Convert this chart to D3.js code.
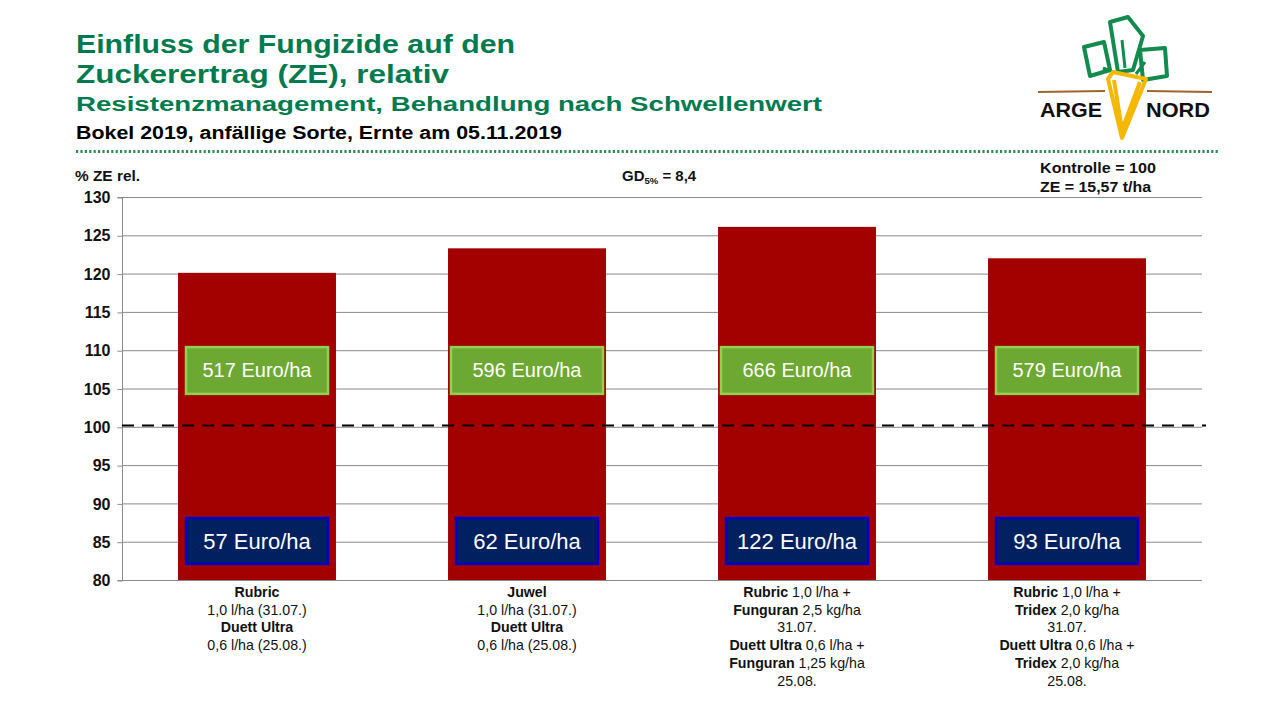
<!DOCTYPE html>
<html><head><meta charset="utf-8">
<script src="https://cdn.jsdelivr.net/npm/d3@7"></script>
<style>
html,body{margin:0;padding:0;background:#fff;}
svg{display:block;font-family:"Liberation Sans",Arial,sans-serif;}
</style></head>
<body>
<svg id="c" width="1280" height="720"></svg>
<script>
// ---- data ----
const categories = ["Rubric/Duett Ultra", "Juwel/Duett Ultra", "Rubric+Funguran/Duett Ultra+Funguran", "Rubric+Tridex/Duett Ultra+Tridex"];
const values = [120.1, 123.3, 126.1, 122.0];
const profitLabels = ["517 Euro/ha", "596 Euro/ha", "666 Euro/ha", "579 Euro/ha"];
const costLabels = ["57 Euro/ha", "62 Euro/ha", "122 Euro/ha", "93 Euro/ha"];
const yTicks = [80, 85, 90, 95, 100, 105, 110, 115, 120, 125, 130];
const controlValue = 100;
const categoryLines = [
  [[["Rubric",1]],[["1,0 l/ha (31.07.)",0]],[["Duett Ultra",1]],[["0,6  l/ha (25.08.)",0]]],
  [[["Juwel",1]],[["1,0 l/ha (31.07.)",0]],[["Duett Ultra",1]],[["0,6 l/ha (25.08.)",0]]],
  [[["Rubric",1],[" 1,0 l/ha +",0]],[["Funguran",1],[" 2,5 kg/ha",0]],[["31.07.",0]],[["Duett Ultra",1],[" 0,6 l/ha +",0]],[["Funguran",1],[" 1,25 kg/ha",0]],[["25.08.",0]]],
  [[["Rubric",1],[" 1,0 l/ha +",0]],[["Tridex",1],[" 2,0 kg/ha",0]],[["31.07.",0]],[["Duett Ultra",1],[" 0,6 l/ha +",0]],[["Tridex",1],[" 2,0 kg/ha",0]],[["25.08.",0]]]
];
const titleLines = ["Einfluss der Fungizide auf den", "Zuckerertrag (ZE), relativ", "Resistenzmanagement, Behandlung nach Schwellenwert", "Bokel 2019, anfällige Sorte, Ernte am 05.11.2019"];

// ---- layout ----
const svg = d3.select("#c");
const green = "#007A4E";
const plot = {left:122, right:1202, top:197, bottom:580};

// Title
const tSpec = [
  {y:53, size:25.5, w:439, col:green},
  {y:83, size:25.5, w:373, col:green},
  {y:111, size:20, w:746, col:green},
  {y:139, size:18, w:486, col:"#000"}
];
titleLines.forEach((t,i)=>{
  svg.append("text").attr("x",76).attr("y",tSpec[i].y)
    .attr("font-size",tSpec[i].size).attr("font-weight","bold").attr("fill",tSpec[i].col)
    .attr("textLength",tSpec[i].w).attr("lengthAdjust","spacingAndGlyphs").text(t);
});
// dotted separator
svg.append("line").attr("x1",76).attr("x2",1220).attr("y1",151.5).attr("y2",151.5)
  .attr("stroke","#2E8B57").attr("stroke-width",3).attr("stroke-dasharray","2.2 2.2");

// Logo
const logo = svg.append("g");
const leafCol = "#138A4E";
const leaves = [
  "M1084,47 L1104,42 L1110,70 L1090,76 Z",
  "M1110,22 L1128,17 L1143,36 L1133,70 L1118,72 Z",
  "M1140,50 L1165,48 L1167,76 L1143,80 Z"
];
leaves.forEach(d=>{
  logo.append("path").attr("d",d).attr("fill","none").attr("stroke",leafCol).attr("stroke-width",4).attr("stroke-linejoin","round");
});
logo.append("path").attr("d","M1113,72 L1103,68 M1125,68 L1122,40 M1136,74 L1145,62").attr("stroke",leafCol).attr("stroke-width",3).attr("fill","none");
logo.append("line").attr("x1",1038).attr("x2",1105).attr("y1",92).attr("y2",91).attr("stroke","#A0622D").attr("stroke-width",2);
logo.append("line").attr("x1",1147).attr("x2",1212).attr("y1",91).attr("y2",92).attr("stroke","#A0622D").attr("stroke-width",2);
logo.append("path").attr("d","M1113,72 L1146,79 L1122,138 L1108,79 Z M1114,80 L1122,130 L1140,82")
  .attr("fill","none").attr("stroke","#F5B800").attr("stroke-width",4).attr("stroke-linejoin","round");
logo.append("text").attr("x",1040).attr("y",117).attr("font-size",21).attr("font-weight","bold").attr("fill","#111")
  .attr("textLength",62).attr("lengthAdjust","spacingAndGlyphs").text("ARGE");
logo.append("text").attr("x",1146).attr("y",117).attr("font-size",21).attr("font-weight","bold").attr("fill","#111")
  .attr("textLength",64).attr("lengthAdjust","spacingAndGlyphs").text("NORD");

// Scales
const x = d3.scaleBand().domain(categories).range([plot.left, plot.right]).paddingInner(0.415).paddingOuter(0.2075);
const y = d3.scaleLinear().domain([80,130]).range([plot.bottom, plot.top]);

// gridlines
svg.append("g").selectAll("line").data(yTicks.slice(1)).join("line")
  .attr("x1",plot.left).attr("x2",plot.right).attr("y1",d=>y(d)+0.5).attr("y2",d=>y(d)+0.5)
  .attr("stroke","#8a8a8a").attr("stroke-width",1);

// y axis
const yAxis = d3.axisLeft(y).tickValues(yTicks).tickSize(5).tickPadding(7);
const ya = svg.append("g").attr("transform",`translate(${plot.left+0.5},0.5)`).call(yAxis);
ya.select(".domain").attr("stroke","#8a8a8a").attr("d",`M-5,${plot.top}H0V${plot.bottom}H-5`);
ya.selectAll(".tick line").attr("stroke","#8a8a8a");
ya.selectAll(".tick text").attr("font-size",16).attr("font-weight","bold").attr("fill","#111")
  .attr("font-family","Liberation Sans, Arial, sans-serif");

// bars
svg.append("g").selectAll("rect").data(values).join("rect")
  .attr("x",(d,i)=>x(categories[i])).attr("width",x.bandwidth())
  .attr("y",d=>y(d)).attr("height",d=>y(80)-y(d)).attr("fill","#A30000");

// x axis line
svg.append("line").attr("x1",plot.left).attr("x2",plot.right).attr("y1",plot.bottom+0.5).attr("y2",plot.bottom+0.5)
  .attr("stroke","#8a8a8a").attr("stroke-width",1.2);

// control dashed line
svg.append("line").attr("x1",plot.left).attr("x2",plot.right+4).attr("y1",y(controlValue)-1.3).attr("y2",y(controlValue)-1.3)
  .attr("stroke","#000").attr("stroke-width",2.2).attr("stroke-dasharray","12 8");

// profit boxes (green)
const bw = 142;
profitLabels.forEach((t,i)=>{
  const cx = x(categories[i]) + x.bandwidth()/2;
  const g = svg.append("g");
  g.append("rect").attr("x",cx-bw/2 - (i===1||i===2?5:0)).attr("width",bw + (i===1||i===2?10:0))
    .attr("y",y(110.4)).attr("height",y(104.3)-y(110.4))
    .attr("fill","#6DA832").attr("stroke","#92D050").attr("stroke-width",2.5);
  g.append("text").attr("x",cx).attr("y",y(107.35)+7).attr("text-anchor","middle")
    .attr("font-size",20).attr("fill","#fff").text(t);
});
// cost boxes (blue)
costLabels.forEach((t,i)=>{
  const cx = x(categories[i]) + x.bandwidth()/2;
  const g = svg.append("g");
  g.append("rect").attr("x",cx-bw/2).attr("width",bw)
    .attr("y",y(88.1)).attr("height",y(82.1)-y(88.1))
    .attr("fill","#002060").attr("stroke","#0000CC").attr("stroke-width",2.5);
  g.append("text").attr("x",cx).attr("y",y(85.1)+8).attr("text-anchor","middle")
    .attr("font-size",22).attr("fill","#fff").text(t);
});

// category labels
categoryLines.forEach((lines,i)=>{
  const cx = x(categories[i]) + x.bandwidth()/2;
  lines.forEach((segs,j)=>{
    const tx = svg.append("text").attr("x",cx).attr("y",597+j*17.7).attr("text-anchor","middle")
      .attr("font-size",14.2).attr("fill","#111");
    segs.forEach(s=>{
      tx.append("tspan").attr("font-weight",s[1]?"bold":"normal").text(s[0]);
    });
  });
});

// annotations
svg.append("text").attr("x",75).attr("y",181).attr("font-size",15).attr("font-weight","bold").attr("fill","#111")
  .attr("textLength",65).attr("lengthAdjust","spacingAndGlyphs").text("% ZE rel.");
const gd = svg.append("text").attr("x",622).attr("y",181).attr("font-size",15).attr("font-weight","bold").attr("fill","#111");
gd.append("tspan").text("GD");
gd.append("tspan").attr("font-size",9.5).attr("dy",3).text("5%");
gd.append("tspan").attr("dy",-3).text(" = 8,4");
svg.append("text").attr("x",1040).attr("y",173).attr("font-size",15.5).attr("font-weight","bold").attr("fill","#111")
  .attr("textLength",116).attr("lengthAdjust","spacingAndGlyphs").text("Kontrolle = 100");
svg.append("text").attr("x",1040).attr("y",192).attr("font-size",15.5).attr("font-weight","bold").attr("fill","#111")
  .attr("textLength",111).attr("lengthAdjust","spacingAndGlyphs").text("ZE = 15,57 t/ha");
</script>
</body></html>
